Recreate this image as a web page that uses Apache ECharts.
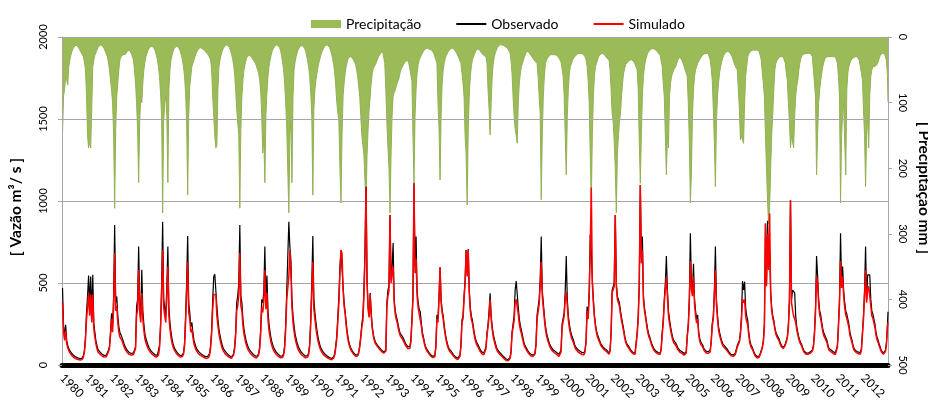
<!DOCTYPE html>
<html><head><meta charset="utf-8">
<script src="https://cdn.jsdelivr.net/npm/echarts@6/dist/echarts.min.js"></script>
<style>html,body{margin:0;padding:0;background:#fff}#c{width:928px;height:406px}</style>
</head><body><div id="c"></div>
<script>
// Years on the x axis (tick labels)
const years = [1980,1981,1982,1983,1984,1985,1986,1987,1988,1989,1990,1991,1992,1993,1994,1995,1996,1997,1998,1999,2000,2001,2002,2003,2004,2005,2006,2007,2008,2009,2010,2011,2012];
const yearLabels = years.map(String);
const flowTicks = [0,500,1000,1500,2000];
const rainTicks = [0,100,200,300,400,500];

// Observed discharge (m3/s), 24 half-month values per year
const observado = [
[470,240,170,245,150,120,100,88,78,70,62,56,52,48,45,42,40,38,38,42,55,90,170,320],
[420,546,350,540,300,550,256,200,150,120,95,85,78,72,66,62,58,56,60,70,90,112,200,315],
[234,420,854,380,417,300,234,200,185,173,150,130,112,100,90,81,76,72,70,72,74,75,110,356],
[400,722,380,300,580,330,250,190,160,140,120,105,95,85,78,72,65,60,58,60,70,120,250,480],
[874,400,350,300,480,722,350,260,200,160,130,110,95,85,75,68,62,56,54,60,75,130,300,500],
[786,380,320,234,260,200,152,130,110,95,85,78,73,68,64,58,54,51,50,52,55,70,120,213],
[400,540,553,548,360,280,220,180,150,125,105,92,82,75,68,62,57,52,50,55,70,110,200,380],
[420,500,854,420,380,280,220,180,150,128,110,96,86,78,70,64,58,54,52,56,70,110,220,400],
[380,450,722,400,546,330,250,200,160,135,115,100,88,78,70,64,58,54,52,56,70,120,250,450],
[450,874,720,640,400,300,240,190,160,135,115,100,88,78,70,64,58,54,52,58,75,130,280,500],
[786,400,320,260,210,170,140,118,100,88,78,70,64,58,53,49,45,42,40,42,50,70,120,180],
[300,420,600,700,690,480,380,325,260,200,160,130,110,95,84,75,68,62,58,62,80,120,180,250],
[300,460,700,1087,518,356,300,439,320,234,190,160,140,134,120,110,104,98,90,85,80,73,90,380],
[457,480,915,520,600,744,400,330,300,274,240,210,190,180,173,160,145,130,120,112,108,112,150,280],
[420,1108,600,783,450,380,340,325,260,200,173,140,115,100,91,80,70,62,56,52,51,60,120,305],
[280,420,596,400,335,300,240,195,160,130,110,95,85,81,72,62,55,48,44,41,45,60,120,274],
[300,420,518,701,560,707,457,350,300,274,230,190,160,140,134,115,100,90,80,75,73,78,110,195],
[250,330,437,300,234,190,160,134,110,95,85,78,73,65,58,50,44,38,35,32,35,45,80,200],
[200,300,457,512,508,350,280,240,213,180,150,125,112,100,90,80,70,65,62,61,62,75,130,305],
[305,400,520,783,457,380,305,240,200,173,150,130,115,104,95,90,85,80,75,70,65,61,90,250],
[250,320,450,664,400,300,250,210,185,173,150,125,110,100,95,91,85,80,76,73,75,90,150,356],
[300,450,796,700,518,400,305,250,210,185,173,150,130,120,112,105,100,95,90,80,73,90,200,457],
[457,500,915,500,420,400,378,330,290,256,220,180,150,130,120,112,100,90,82,76,73,74,85,200],
[300,500,1098,650,783,420,350,305,260,220,190,173,150,130,115,100,91,85,80,76,75,73,100,200],
[274,400,500,664,457,330,280,234,200,170,150,140,134,120,105,95,88,82,81,75,70,65,80,180],
[250,400,803,500,450,617,400,330,280,305,200,160,140,134,120,100,90,85,82,81,80,90,150,256],
[300,450,722,400,305,234,200,173,150,130,120,115,112,100,90,80,70,65,62,61,62,70,80,120],
[110,150,200,300,512,457,508,350,300,274,200,150,125,112,100,80,65,55,51,50,55,70,90,112],
[150,250,860,500,880,600,700,450,350,300,274,230,200,185,173,160,140,125,112,110,112,130,150,173],
[250,400,1000,400,457,450,440,300,234,200,170,150,134,120,100,85,75,73,70,72,75,80,85,91],
[120,200,350,664,546,400,330,305,260,220,195,180,173,150,120,100,95,91,85,80,76,74,73,120],
[250,400,803,500,600,450,380,330,310,305,250,200,173,150,120,100,91,85,80,78,76,75,100,200],
[300,450,722,400,550,540,550,400,330,310,305,250,200,170,152,130,110,90,80,73,75,90,134,250]
];
const observadoFinal = 325;

// Simulated discharge (m3/s)
const simulado = [
[380,200,150,210,130,105,88,75,66,58,50,45,42,38,35,33,31,30,30,35,48,80,150,280],
[350,440,300,430,260,430,220,170,130,100,80,72,66,60,55,51,48,46,50,60,80,100,180,280],
[200,360,683,330,360,260,200,170,160,150,130,112,96,86,77,70,65,62,60,62,64,66,100,300],
[340,579,320,260,439,280,210,160,135,118,100,88,80,72,66,60,55,50,48,50,60,105,220,420],
[701,350,300,260,420,600,300,220,170,135,110,94,82,72,64,58,53,48,46,52,66,115,260,440],
[630,320,280,200,220,170,130,110,92,80,72,65,60,56,52,48,44,42,40,42,45,60,105,190],
[340,430,439,430,300,240,190,155,128,105,88,77,68,62,56,51,47,43,41,46,60,95,175,330],
[360,430,683,360,330,240,190,155,128,108,92,80,72,64,58,53,48,44,42,46,60,95,190,350],
[320,390,579,340,440,280,210,170,135,112,95,82,72,64,58,53,48,44,42,46,60,105,220,400],
[390,539,700,560,350,260,205,165,135,112,95,82,72,64,58,53,48,44,42,48,64,115,250,440],
[630,340,280,225,180,145,120,100,85,74,65,58,53,48,44,40,37,34,32,35,42,62,105,160],
[270,380,560,701,680,460,360,310,240,185,145,118,100,85,75,66,60,54,50,55,72,110,165,230],
[270,420,650,1087,500,340,290,430,300,220,178,150,130,125,112,102,96,90,82,76,72,66,85,360],
[420,450,915,500,560,600,380,310,280,255,222,195,175,165,158,146,132,118,108,100,96,100,140,260],
[400,1108,560,650,420,350,310,300,240,185,160,128,105,90,82,72,62,55,49,45,44,52,108,280],
[260,400,596,380,320,280,225,180,145,118,100,85,75,70,62,53,46,40,36,33,37,52,110,260],
[280,400,500,701,540,700,440,330,280,255,212,175,146,126,120,103,88,78,70,65,62,68,100,180],
[230,300,400,280,215,172,145,120,98,84,74,66,62,55,48,41,36,30,27,25,28,38,72,185],
[185,270,380,400,395,310,250,215,192,162,135,112,100,90,80,70,61,56,53,52,53,66,120,280],
[280,370,480,630,420,350,280,220,180,155,135,116,102,92,84,78,73,68,63,58,53,50,80,230],
[230,300,400,445,360,275,225,190,165,155,134,112,98,88,82,78,72,68,64,62,63,80,140,330],
[280,420,700,1083,500,380,290,235,195,170,160,138,120,110,103,96,90,85,80,72,66,82,190,440],
[440,480,915,480,400,380,360,310,270,238,205,165,138,120,110,102,91,82,74,68,65,66,78,185],
[280,480,1098,620,700,400,330,290,245,205,176,160,138,118,104,90,82,76,71,67,66,65,92,185],
[255,380,460,540,420,300,255,215,182,155,136,126,120,108,94,84,78,72,70,64,60,56,72,170],
[230,380,634,460,420,540,370,300,255,280,182,145,126,120,108,90,80,75,72,70,70,80,140,240],
[280,420,579,370,285,215,182,158,136,118,108,103,100,89,80,71,62,57,54,53,54,62,72,110],
[100,140,185,270,400,380,400,300,265,245,180,135,112,100,89,70,56,47,43,42,47,62,82,105],
[140,235,864,480,800,580,925,430,330,285,260,218,188,172,160,148,130,115,103,100,102,120,140,165],
[230,380,1006,380,335,300,280,260,215,185,155,138,124,110,92,78,68,66,63,65,68,72,78,85],
[110,185,320,540,500,370,305,280,240,202,178,165,158,136,108,90,84,80,75,70,66,64,63,110],
[230,380,634,470,540,420,350,305,285,280,230,182,158,136,108,90,82,76,71,69,67,66,90,185],
[280,420,579,380,460,480,470,360,300,285,280,228,182,154,138,118,100,82,72,66,68,82,120,230]
];
const simuladoFinal = 260;

// Precipitation (mm)
const precipitacao = [
[145,90,80,60,65,73,45,35,28,22,18,15,13,12,13,15,18,20,24,26,30,38,50,87],
[150,169,160,169,110,45,35,28,24,20,16,14,12,12,13,15,18,22,26,30,38,50,65,81],
[100,150,261,140,91,70,50,35,30,28,27,26,27,25,22,20,20,22,25,27,35,50,70,100],
[142,222,130,90,100,70,50,38,30,25,20,17,15,14,14,15,18,22,28,35,45,60,85,120],
[268,130,100,90,120,222,80,50,35,28,22,18,15,14,14,15,18,22,28,35,45,60,85,130],
[241,120,76,60,45,40,35,30,25,22,19,17,16,17,18,19,20,22,24,26,28,30,35,50],
[91,120,150,169,165,80,45,35,28,22,18,15,13,12,12,13,16,20,26,32,42,55,80,110],
[110,150,261,140,90,65,50,42,35,30,30,28,28,30,32,35,38,40,45,50,55,65,81,120],
[177,150,222,120,85,60,45,35,28,22,18,15,13,12,12,13,16,20,28,38,50,70,100,140],
[140,268,150,130,222,90,50,38,30,24,19,16,14,13,13,14,17,21,28,36,46,60,85,120],
[241,110,80,65,55,45,38,32,26,22,18,15,13,12,12,13,16,20,26,33,42,55,75,100],
[100,130,200,253,150,90,70,55,45,38,32,30,30,30,32,35,38,42,50,60,75,91,120,150],
[150,180,220,255,180,140,110,91,70,55,48,45,42,38,34,30,28,25,22,22,25,40,80,130],
[167,200,268,180,120,90,85,81,75,70,66,60,52,48,45,42,40,37,35,36,40,48,58,66],
[150,223,120,80,55,42,35,32,28,25,22,20,18,17,17,18,19,20,20,22,25,30,35,40],
[100,140,218,120,70,50,40,32,28,25,22,20,18,17,17,18,20,22,25,28,32,36,40,55],
[70,91,150,180,256,140,90,60,45,35,30,26,22,20,18,18,20,22,25,27,28,29,30,40],
[80,110,149,100,60,40,30,24,20,16,13,12,12,12,12,13,14,15,16,18,20,24,35,55],
[91,120,140,150,162,100,70,55,45,40,35,30,26,22,22,23,25,28,30,32,35,37,38,40],
[60,90,116,248,150,90,60,40,35,32,30,28,27,27,27,27,27,27,28,30,32,35,38,40],
[60,90,150,210,120,80,55,45,40,35,32,30,28,27,26,25,25,25,25,26,28,30,35,45],
[66,100,180,255,150,90,60,45,40,35,30,28,26,25,25,26,28,30,32,34,35,50,80,116],
[130,160,200,268,180,150,130,116,90,70,55,48,42,40,38,36,35,35,35,35,38,42,46,50],
[80,160,223,150,90,60,45,35,30,25,22,20,19,18,18,18,19,20,22,24,26,28,30,45],
[70,91,150,210,150,169,91,70,60,55,50,47,45,40,35,32,30,32,36,40,45,50,55,60],
[100,160,253,207,120,80,60,50,45,40,37,34,31,29,27,26,25,25,25,25,28,35,48,66],
[110,160,228,130,91,70,55,45,38,32,28,25,23,22,22,22,24,27,30,35,40,44,47,50],
[80,110,157,150,157,162,100,60,45,30,26,23,21,20,20,20,20,20,20,20,22,25,35,55],
[70,91,150,200,250,285,260,200,150,116,80,50,40,36,33,31,30,30,30,30,32,40,55,66],
[100,130,169,150,160,169,120,90,75,66,50,40,32,28,27,26,25,25,25,25,25,25,25,30],
[50,70,91,210,150,100,80,66,55,45,38,33,30,30,30,30,30,30,30,30,30,30,30,40],
[60,91,253,150,120,100,160,210,80,55,45,40,35,33,32,31,30,30,30,32,36,45,55,66],
[110,150,228,150,120,169,90,60,50,45,45,45,45,42,38,33,28,25,25,25,25,28,35,60]
];
const precipitacaoFinal = 99;

function toPoints(byYear, last) {
  const pts = [];
  byYear.forEach((vals, k) => {
    vals.forEach((v, i) => pts.push([years[k] + (i + 0.5) / vals.length, v]));
  });
  pts.push([years[years.length - 1] + 1, last]);
  return pts;
}

const FONT = 'Lato, "Open Sans", sans-serif';
const chart = echarts.init(document.getElementById('c'), null, {renderer: 'canvas'});
chart.setOption({
  animation: false,
  backgroundColor: '#ffffff',
  textStyle: {fontFamily: FONT, color: '#000'},
  legend: {
    top: 12, left: 306, itemWidth: 30, itemHeight: 8, itemGap: 34,
    textStyle: {fontSize: 14, color: '#000', fontFamily: FONT},
    data: [
      {name: 'Precipitação', icon: 'rect'},
      {name: 'Observado', itemStyle: {opacity: 0}},
      {name: 'Simulado', itemStyle: {opacity: 0}}
    ]
  },
  grid: {left: 62, right: 40, top: 37, bottom: 41, containLabel: false, outerBoundsMode: 'none'},
  xAxis: {
    type: 'value', min: years[0], max: years[years.length - 1] + 1, interval: 1, offset: 3,
    axisLine: {lineStyle: {color: '#000', width: 5}},
    axisTick: {show: false}, splitLine: {show: false},
    axisLabel: {
      rotate: -45, margin: 8, fontSize: 12, color: '#000', fontFamily: FONT,
      formatter: v => yearLabels[years.indexOf(Math.round(v))] || ''
    }
  },
  yAxis: [
    {
      type: 'value', min: flowTicks[0], max: flowTicks[flowTicks.length - 1], interval: 500,
      name: '[ Vazão m³/ s ]', nameLocation: 'middle', nameGap: 46, nameRotate: 90,
      nameTextStyle: {fontWeight: 'bold', fontSize: 15.5, color: '#000', fontFamily: FONT, align: 'center', verticalAlign: 'middle', padding: [0, 12, 0, 0]},
      axisLine: {show: true, lineStyle: {color: '#A6A6A6', width: 1}},
      axisTick: {show: true, length: 4, lineStyle: {color: '#A6A6A6'}},
      axisLabel: {rotate: 90, margin: 19, fontSize: 11, color: '#000', fontFamily: FONT, align: 'center', verticalAlign: 'middle', formatter: v => String(v)},
      splitLine: {lineStyle: {color: '#A6A6A6', width: 1}}
    },
    {
      type: 'value', min: rainTicks[0], max: rainTicks[rainTicks.length - 1], interval: 100,
      inverse: true, position: 'right',
      name: '[ Precipitação mm ]', nameLocation: 'middle', nameGap: 34, nameRotate: -90,
      nameTextStyle: {fontWeight: 'bold', fontSize: 15.5, color: '#000', fontFamily: FONT, align: 'center', verticalAlign: 'middle', padding: [0, 26, 0, 0]},
      axisLine: {show: true, lineStyle: {color: '#A6A6A6', width: 1}},
      axisTick: {show: true, length: 4, lineStyle: {color: '#A6A6A6'}},
      axisLabel: {rotate: -90, margin: 15, fontSize: 11, color: '#000', fontFamily: FONT, align: 'center', verticalAlign: 'middle', formatter: v => String(v)},
      splitLine: {show: false}
    }
  ],
  series: [
    {
      name: 'Precipitação', type: 'line', yAxisIndex: 1, z: -1,
      data: toPoints(precipitacao, precipitacaoFinal),
      symbol: 'none', showSymbol: false,
      lineStyle: {color: '#93B152', width: 1},
      itemStyle: {color: '#9BBB59'},
      areaStyle: {color: '#9BBB59', opacity: 1}
    },
    {
      name: 'Observado', type: 'line', yAxisIndex: 0,
      data: toPoints(observado, observadoFinal),
      symbol: 'none', showSymbol: false,
      lineStyle: {color: '#000000', width: 1.2},
      itemStyle: {color: '#000000'}
    },
    {
      name: 'Simulado', type: 'line', yAxisIndex: 0,
      data: toPoints(simulado, simuladoFinal),
      symbol: 'none', showSymbol: false,
      lineStyle: {color: '#FF0000', width: 1.5},
      itemStyle: {color: '#FF0000'}
    }
  ]
});
</script>
</body></html>
